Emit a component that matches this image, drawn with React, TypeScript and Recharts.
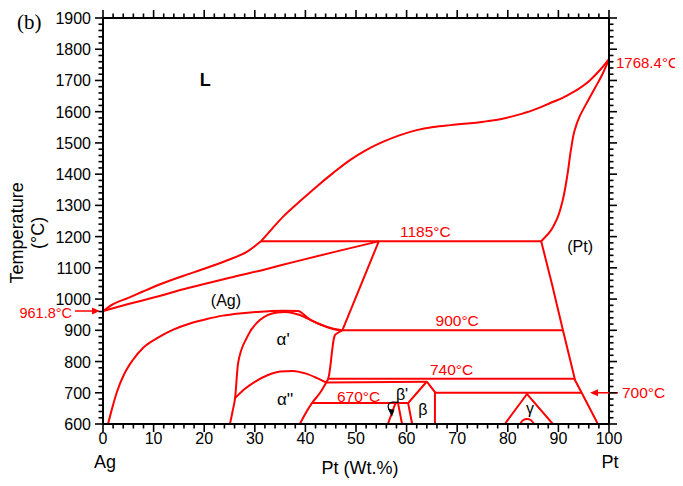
import React from 'react';
import { ComposedChart, Line, XAxis, YAxis, ReferenceDot } from 'recharts';

type P = [number, number];

// ---- axis ticks ----
const xMajorTicks = [0, 10, 20, 30, 40, 50, 60, 70, 80, 90, 100];
const yMajorTicks = [600, 700, 800, 900, 1000, 1100, 1200, 1300, 1400, 1500, 1600, 1700, 1800, 1900];
const xMinorStep = 2;
const yMinorStep = 20;

// ---- phase boundaries (Pt wt.%, temperature °C) ----
const liquidusLow: P[] = [[0, 961.8], [2, 984], [4.9, 1003], [8, 1025], [11.7, 1050], [18.2, 1087], [24.7, 1125], [28.5, 1152], [31.2, 1185]];
const liquidusHigh: P[] = [[31.2, 1185], [33.4, 1225], [35.6, 1264], [38.9, 1313], [42.2, 1360], [45.5, 1404], [48.8, 1445], [52, 1477], [55.4, 1504], [58.7, 1525], [62, 1541], [65.3, 1551], [68.6, 1557], [72, 1562], [75.2, 1568], [78.5, 1576], [81.8, 1589], [85, 1605], [88.3, 1627], [91, 1646], [93.6, 1669], [96.2, 1700], [98.3, 1735], [100, 1768.4]];
const solidusAg: P[] = [[0, 961.8], [5, 984], [10, 1005], [17, 1036], [25, 1068], [32, 1095], [38, 1120], [46, 1152], [54.5, 1185]];
const solidusPt: P[] = [[86.6, 1185], [88.3, 1215], [89.8, 1260], [90.9, 1320], [91.8, 1400], [92.5, 1480], [93.2, 1540], [94.2, 1585], [95.5, 1625], [97.2, 1675], [98.7, 1720], [100, 1768.4]];
const agPeritecticSide: P[] = [[47.3, 900], [54.5, 1185]];
const ptSolvus: P[] = [[97.8, 600], [94.6, 700], [93.3, 740], [92.4, 800], [90.9, 900], [88.7, 1050], [86.6, 1185]];
const agSolvus: P[] = [[1, 600], [1.8, 650], [2.8, 705], [4.2, 760], [5.9, 805], [8, 845], [10.7, 875], [14, 903], [17.2, 922], [20.5, 936], [23.7, 947], [27, 954], [30.4, 959], [35.6, 963], [38.5, 962], [40.9, 934], [44.3, 911], [47.3, 900]];
const alphaPrimeDome: P[] = [[25.1, 600], [25.6, 640], [26.1, 683], [26.7, 795], [28.5, 879], [31, 933], [34.4, 957], [36, 959], [38.9, 949], [42.3, 923], [46.3, 901], [47.3, 900]];
const alphaPrimeRight: P[] = [[38.9, 600], [41.3, 667], [42.9, 700], [44.1, 733], [44.5, 745], [44.9, 782], [45.3, 837], [45.8, 884], [47.3, 900]];
const alphaDoublePrimeDome: P[] = [[26.1, 683], [28, 712], [30, 735], [32.5, 756], [35, 768], [37.5, 770], [40, 762], [42.3, 747], [44.1, 733]];
const iso1185: P[] = [[31.2, 1185], [86.6, 1185]];
const iso900: P[] = [[47.3, 900], [90.9, 900]];
const iso740: P[] = [[44.5, 745], [93.3, 745]];
const lineToBeta: P[] = [[44.1, 733], [64, 735]];
const iso670: P[] = [[41.3, 667], [60.3, 667]];
const iso700: P[] = [[65.6, 700], [94.6, 700]];
const betaLeft: P[] = [[64, 736], [60.3, 667], [61.1, 600]];
const betaRight: P[] = [[64, 736], [65.6, 702], [65.6, 600]];
const betaPrimeA: P[] = [[56.3, 600], [57.8, 667]];
const betaPrimeB: P[] = [[58.3, 667], [59.1, 600]];
const gammaTri: P[] = [[79.4, 600], [83.8, 696], [88.9, 600]];
const gammaArc: P[] = [[82.4, 600], [83, 612], [83.8, 616], [84.6, 612], [85.2, 600]];
const hook: P[] = [[58.3, 669], [57.2, 670], [56.4, 662], [56.5, 648], [57, 636]];

const FONT = '"Liberation Sans", Arial, Helvetica, sans-serif';
const RED = '#ff0000';

const toD = (pts: P[]) => pts.map(([x, t]) => ({ x, t }));

const range = (a: number, b: number, s: number) => {
  const out: number[] = [];
  for (let v = a; v <= b + 1e-9; v += s) out.push(Math.round(v * 1000) / 1000);
  return out;
};
const xTicks = range(xMajorTicks[0], xMajorTicks[xMajorTicks.length - 1], xMinorStep);
const yTicks = range(yMajorTicks[0], yMajorTicks[yMajorTicks.length - 1], yMinorStep);

const MAJ = 8;
const MIN = 4.5;
const TW = 1.6;

const BottomTick = (p: any) => {
  const { x, y, payload } = p;
  const v = payload.value;
  const major = xMajorTicks.includes(v);
  return (
    <g>
      <line x1={x} x2={x} y1={y} y2={y + (major ? MAJ : MIN)} stroke="#000" strokeWidth={TW} />
      {major && (
        <text x={x} y={y + 20} textAnchor="middle" fontSize={16} fontFamily={FONT} fill="#000">{v}</text>
      )}
    </g>
  );
};
const TopTick = (p: any) => {
  const { x, y, payload } = p;
  const major = xMajorTicks.includes(payload.value);
  return <line x1={x} x2={x} y1={y} y2={y - (major ? MAJ : MIN)} stroke="#000" strokeWidth={TW} />;
};
const LeftTick = (p: any) => {
  const { x, y, payload } = p;
  const v = payload.value;
  const major = yMajorTicks.includes(v);
  return (
    <g>
      <line x1={x} x2={x - (major ? MAJ : MIN)} y1={y} y2={y} stroke="#000" strokeWidth={TW} />
      {major && (
        <text x={x - 12} y={y + 6} textAnchor="end" fontSize={16} fontFamily={FONT} fill="#000">{v}</text>
      )}
    </g>
  );
};
const RightTick = (p: any) => {
  const { x, y, payload } = p;
  const major = yMajorTicks.includes(payload.value);
  return <line x1={x} x2={x + (major ? MAJ : MIN)} y1={y} y2={y} stroke="#000" strokeWidth={TW} />;
};

type Ann = {
  text: string; x: number; t: number; color?: string; size?: number; dx?: number; dy?: number;
  anchor?: 'start' | 'middle' | 'end'; weight?: string; family?: string; rotate?: boolean; arrow?: 'left' | 'right';
};

const annotations: Ann[] = [
  { text: 'L', x: 20.2, t: 1701, size: 18, weight: 'bold' },
  { text: '(Ag)', x: 24.3, t: 997, size: 16 },
  { text: '(Pt)', x: 94.3, t: 1167, size: 16 },
  { text: "\u03b1'", x: 35.6, t: 869, size: 17 },
  { text: "\u03b1''", x: 36, t: 677, size: 17 },
  { text: "\u03b2'", x: 59.1, t: 695, size: 16 },
  { text: '\u03b2', x: 63.2, t: 645, size: 16 },
  { text: '\u03b3', x: 84.4, t: 651, size: 16 },
  { text: '1185\u00b0C', x: 63.7, t: 1215, color: RED, size: 15.5 },
  { text: '900\u00b0C', x: 70, t: 933, color: RED, size: 15.5 },
  { text: '740\u00b0C', x: 68.9, t: 775, color: RED, size: 15.5 },
  { text: '670\u00b0C', x: 50.5, t: 688, color: RED, size: 15.5 },
  { text: '1768.4\u00b0C', x: 100, t: 1768.4, color: RED, size: 15, dx: 7, dy: 3, anchor: 'start' },
  { text: '961.8\u00b0C', x: 0, t: 961.8, color: RED, size: 14.5, dx: -31, dy: 2, anchor: 'end', arrow: 'right' },
  { text: '700\u00b0C', x: 100, t: 700, color: RED, size: 15.5, dx: 13, dy: 0, anchor: 'start', arrow: 'left' },
  { text: 'Temperature', x: 0, t: 1212, size: 18, dx: -86, rotate: true },
  { text: '(\u00b0C)', x: 0, t: 1212, size: 18, dx: -65, rotate: true },
  { text: 'Ag', x: 0, t: 600, size: 18, dx: 2, dy: 38 },
  { text: 'Pt', x: 100, t: 600, size: 18, dx: 1, dy: 38 },
  { text: 'Pt  (Wt.%)', x: 50, t: 600, size: 18, dx: 4, dy: 44 },
  { text: '(b)', x: 0, t: 1900, size: 21, dx: -86, dy: 4, anchor: 'start', family: '"Liberation Serif", "Times New Roman", serif' },
];

const makeLabel = (a: Ann) => (props: any) => {
  const vb = props.viewBox || {};
  const cx = (vb.x ?? 0) + (vb.width ?? 0) / 2 + (a.dx ?? 0);
  const cy = (vb.y ?? 0) + (vb.height ?? 0) / 2 + (a.dy ?? 0);
  const color = a.color ?? '#000';
  const ay = cy - (a.dy ?? 0);
  const arrow =
    a.arrow === 'right' ? (
      <g>
        <line x1={cx + 3} x2={cx + 24} y1={ay} y2={ay} stroke={color} strokeWidth={1.5} />
        <path d={`M${cx + 28},${ay} L${cx + 20},${ay - 3.5} L${cx + 20},${ay + 3.5} Z`} fill={color} />
      </g>
    ) : a.arrow === 'left' ? (
      <g>
        <line x1={cx - 4} x2={cx - 27} y1={ay} y2={ay} stroke={color} strokeWidth={1.5} />
        <path d={`M${cx - 32},${ay} L${cx - 24},${ay - 3.5} L${cx - 24},${ay + 3.5} Z`} fill={color} />
      </g>
    ) : null;
  return (
    <g>
      <text
        x={cx}
        y={cy}
        textAnchor={a.anchor ?? 'middle'}
        dominantBaseline="central"
        fontSize={a.size ?? 16}
        fontWeight={a.weight ?? 'normal'}
        fontFamily={a.family ?? FONT}
        fill={color}
        transform={a.rotate ? `rotate(-90, ${cx}, ${cy})` : undefined}
      >
        {a.text}
      </text>
      {arrow}
    </g>
  );
};

const redSeries: { pts: P[]; type: string }[] = [
  { pts: liquidusLow, type: 'monotoneX' },
  { pts: liquidusHigh, type: 'monotoneX' },
  { pts: solidusAg, type: 'monotoneX' },
  { pts: solidusPt, type: 'monotoneY' },
  { pts: agPeritecticSide, type: 'linear' },
  { pts: ptSolvus, type: 'linear' },
  { pts: agSolvus, type: 'monotoneX' },
  { pts: alphaPrimeDome, type: 'monotoneX' },
  { pts: alphaPrimeRight, type: 'monotoneY' },
  { pts: alphaDoublePrimeDome, type: 'monotoneX' },
  { pts: iso1185, type: 'linear' },
  { pts: iso900, type: 'linear' },
  { pts: iso740, type: 'linear' },
  { pts: lineToBeta, type: 'linear' },
  { pts: iso670, type: 'linear' },
  { pts: iso700, type: 'linear' },
  { pts: betaLeft, type: 'linear' },
  { pts: betaRight, type: 'linear' },
  { pts: betaPrimeA, type: 'linear' },
  { pts: betaPrimeB, type: 'linear' },
  { pts: gammaTri, type: 'linear' },
  { pts: gammaArc, type: 'monotoneX' },
];

const ArrowHead = (p: any) => {
  const { cx, cy } = p;
  return <path d={`M${cx - 3.5},${cy - 4} L${cx + 3},${cy - 3} L${cx + 0.5},${cy + 4} Z`} fill="#000" />;
};

export default function App() {
  return (
    <ComposedChart width={675} height={478} margin={{ top: 0, right: 64, bottom: 32, left: 35 }}>
      <XAxis
        xAxisId={0}
        dataKey="x"
        type="number"
        domain={[0, 100]}
        ticks={xTicks}
        interval={0}
        tickSize={0}
        tickMargin={0}
        tickLine={false}
        tick={<BottomTick />}
        axisLine={{ stroke: '#000', strokeWidth: 2 }}
        height={30}
        allowDataOverflow
      />
      <XAxis
        xAxisId="top"
        orientation="top"
        dataKey="x"
        type="number"
        domain={[0, 100]}
        ticks={xTicks}
        interval={0}
        tickSize={0}
        tickMargin={0}
        tickLine={false}
        tick={<TopTick />}
        axisLine={{ stroke: '#000', strokeWidth: 2 }}
        height={10}
        allowDataOverflow
      />
      <YAxis
        yAxisId={0}
        dataKey="t"
        type="number"
        domain={[600, 1900]}
        ticks={yTicks}
        interval={0}
        tickSize={0}
        tickMargin={0}
        tickLine={false}
        tick={<LeftTick />}
        axisLine={{ stroke: '#000', strokeWidth: 2 }}
        width={60}
        allowDataOverflow
      />
      <YAxis
        yAxisId="right"
        orientation="right"
        dataKey="t"
        type="number"
        domain={[600, 1900]}
        ticks={yTicks}
        interval={0}
        tickSize={0}
        tickMargin={0}
        tickLine={false}
        tick={<RightTick />}
        axisLine={{ stroke: '#000', strokeWidth: 2 }}
        width={10}
        allowDataOverflow
      />
      {redSeries.map((s, i) => (
        <Line
          key={'r' + i}
          data={toD(s.pts)}
          dataKey="t"
          type={s.type as any}
          stroke={RED}
          strokeWidth={2}
          dot={false}
          activeDot={false}
          isAnimationActive={false}
          legendType="none"
        />
      ))}
      <Line
        data={toD(hook)}
        dataKey="t"
        type="natural"
        stroke="#000"
        strokeWidth={1.2}
        dot={false}
        activeDot={false}
        isAnimationActive={false}
      />
      <ReferenceDot x={hook[hook.length - 1][0]} y={hook[hook.length - 1][1]} r={3} shape={<ArrowHead />} ifOverflow="visible" />
      {annotations.map((a, i) => (
        <ReferenceDot
          key={'a' + i}
          x={a.x}
          y={a.t}
          r={1}
          fill="none"
          stroke="none"
          ifOverflow="visible"
          label={makeLabel(a)}
        />
      ))}
    </ComposedChart>
  );
}
